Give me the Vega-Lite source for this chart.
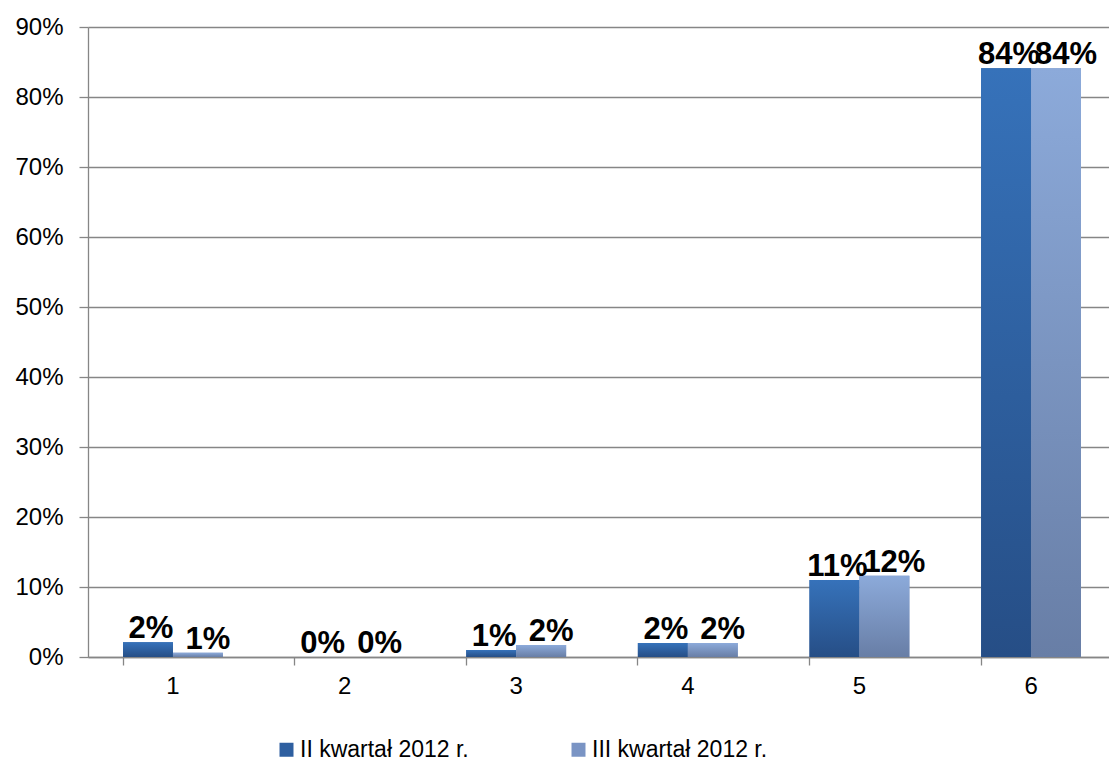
{
  "$schema": "https://vega.github.io/schema/vega-lite/v6.json",
  "width": 1021,
  "height": 630,
  "autosize": {"type": "none"},
  "padding": {"left": 88, "top": 27, "right": 0, "bottom": 112},
  "background": "white",
  "config": {
    "view": {"stroke": null},
    "font": "Liberation Sans",
    "axis": {"labelFont": "Liberation Sans", "labelColor": "#000000", "domainColor": "#868686", "tickColor": "#868686", "gridColor": "#868686", "domainWidth": 1.3, "tickWidth": 1.3, "gridWidth": 1.3}
  },
  "data": {
    "values": [
      {"cat": "1", "series": "II kwartał 2012 r.", "v": 0.021},
      {"cat": "1", "series": "III kwartał 2012 r.", "v": 0.006},
      {"cat": "2", "series": "II kwartał 2012 r.", "v": 0.0},
      {"cat": "2", "series": "III kwartał 2012 r.", "v": 0.0},
      {"cat": "3", "series": "II kwartał 2012 r.", "v": 0.010},
      {"cat": "3", "series": "III kwartał 2012 r.", "v": 0.017},
      {"cat": "4", "series": "II kwartał 2012 r.", "v": 0.020},
      {"cat": "4", "series": "III kwartał 2012 r.", "v": 0.020},
      {"cat": "5", "series": "II kwartał 2012 r.", "v": 0.110},
      {"cat": "5", "series": "III kwartał 2012 r.", "v": 0.116},
      {"cat": "6", "series": "II kwartał 2012 r.", "v": 0.841},
      {"cat": "6", "series": "III kwartał 2012 r.", "v": 0.841}
    ]
  },
  "encoding": {
    "x": {
      "field": "cat", "type": "nominal", "title": null,
      "scale": {"paddingInner": 0.418, "paddingOuter": 0.204, "range": [0, 1028]},
      "axis": {"labelAngle": 0, "labelFontSize": 24, "tickSize": 8, "labelPadding": 9, "bandPosition": 0}
    },
    "xOffset": {
      "field": "series", "type": "nominal",
      "scale": {"domain": ["II kwartał 2012 r.", "III kwartał 2012 r."], "paddingInner": 0, "paddingOuter": 0}
    },
    "y": {
      "field": "v", "type": "quantitative", "title": null,
      "scale": {"domain": [0, 0.9], "nice": false},
      "axis": {"values": [0, 0.1, 0.2, 0.3, 0.4, 0.5, 0.6, 0.7, 0.8, 0.9], "format": ".0%", "labelFontSize": 24, "tickSize": 9, "labelPadding": 16, "grid": true}
    }
  },
  "layer": [
    {
      "mark": {"type": "bar"},
      "encoding": {
        "color": {
          "field": "series", "type": "nominal",
          "scale": {"domain": ["II kwartał 2012 r.", "III kwartał 2012 r."], "range": ["#2e5fa0", "#7a94c4"]},
          "legend": {"title": null, "orient": "none", "direction": "horizontal", "legendX": 187, "legendY": 711, "labelFontSize": 23, "labelFont": "Liberation Sans", "labelColor": "#000000", "labelLimit": 0, "symbolType": "square", "symbolSize": 196, "symbolStrokeWidth": 0, "columnPadding": 98, "labelOffset": 2}
        }
      }
    },
    {
      "transform": [{"filter": "datum.series == 'II kwartał 2012 r.'"}],
      "mark": {"type": "bar", "fill": {"gradient": "linear", "x1": 0, "y1": 0, "x2": 0, "y2": 1, "stops": [{"offset": 0, "color": "#3672ba"}, {"offset": 1, "color": "#264e86"}]}}
    },
    {
      "transform": [{"filter": "datum.series == 'III kwartał 2012 r.'"}],
      "mark": {"type": "bar", "fill": {"gradient": "linear", "x1": 0, "y1": 0, "x2": 0, "y2": 1, "stops": [{"offset": 0, "color": "#8caada"}, {"offset": 1, "color": "#687ea6"}]}}
    },
    {
      "transform": [{"filter": "datum.series == 'II kwartał 2012 r.'"}],
      "mark": {"type": "text", "baseline": "alphabetic", "dy": -4, "dx": 3, "fontSize": 31, "fontWeight": "bold", "font": "Liberation Sans", "color": "#000000"},
      "encoding": {"text": {"field": "v", "type": "quantitative", "format": ".0%"}}
    },
    {
      "transform": [{"filter": "datum.series == 'III kwartał 2012 r.'"}],
      "mark": {"type": "text", "baseline": "alphabetic", "dy": -4, "dx": 10, "fontSize": 31, "fontWeight": "bold", "font": "Liberation Sans", "color": "#000000"},
      "encoding": {"text": {"field": "v", "type": "quantitative", "format": ".0%"}}
    }
  ]
}
